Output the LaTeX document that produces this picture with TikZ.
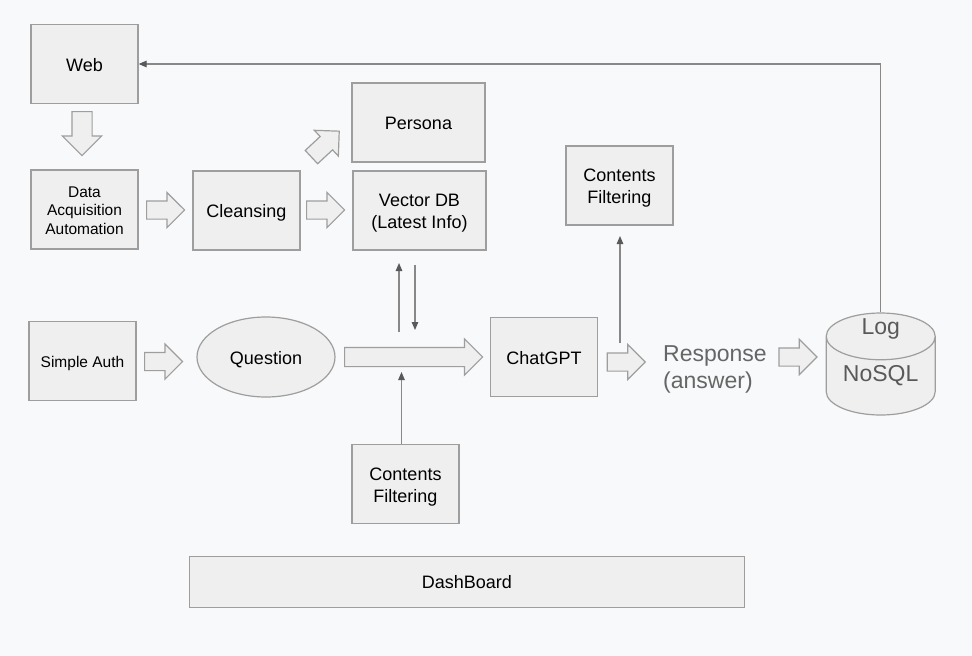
\documentclass[tikz,border=0pt]{standalone}
\usepackage{fontspec}
\setmainfont{Liberation Sans}
\usepackage{tikz}
\usetikzlibrary{shapes.geometric, shapes.arrows, arrows.meta}
\definecolor{bgpage}{HTML}{F8F9FA}
\definecolor{boxfill}{HTML}{EFEFEF}
\definecolor{boxline}{HTML}{9E9E9E}
\definecolor{wire}{HTML}{888888}
\definecolor{tipcol}{HTML}{595959}
\definecolor{greytext}{HTML}{666666}
\newcommand{\mainsize}{\fontsize{18}{21.6}\selectfont}
\newcommand{\smallsize}{\fontsize{15.5}{18.6}\selectfont}
\newcommand{\bigsize}{\fontsize{23}{27.6}\selectfont}
\newcommand{\topstrut}{\rule{0pt}{1.018em}}
\newcommand{\botstrut}{\rule[-0.212em]{0pt}{0.212em}}
\tikzstyle{box} = [rectangle, minimum width=107pt, minimum height=79pt, inner sep=0pt, text centered, align=center, draw=boxline, fill=boxfill, line width=1.2pt, font=\mainsize, execute at begin node=\topstrut, execute at end node=\botstrut]
\tikzstyle{smallbox} = [box, font=\smallsize]
\tikzstyle{widebox} = [box, minimum width=133pt]
\tikzstyle{dashbox} = [box, minimum width=555pt, minimum height=51pt]
\tikzstyle{question} = [ellipse, minimum width=138pt, minimum height=80pt, inner sep=0pt, draw=boxline, fill=boxfill, line width=1.2pt, font=\mainsize, execute at begin node=\topstrut\botstrut]
\tikzstyle{db} = [cylinder, shape border rotate=90, aspect=0.62, minimum width=109pt, minimum height=102pt, inner sep=0pt, draw=boxline, fill=boxfill, line width=1.2pt, font=\bigsize, text=tipcol]
\tikzstyle{dbtext} = [font=\bigsize, text=tipcol, inner sep=0pt]
\tikzstyle{answer} = [font=\bigsize, text=greytext, align=left, inner sep=0pt]
\tikzstyle{blockarrow} = [single arrow, anchor=tail, draw=boxline, fill=boxfill, line width=1.2pt, inner xsep=0pt, inner ysep=8.5pt, single arrow head extend=8.5pt, minimum height=38pt]
\tikzstyle{arrow} = [line width=1.2pt, draw=wire, ->, >={Triangle[length=8pt, width=6.5pt, color=tipcol]}]

\begin{document}
\begin{tikzpicture}[x=1pt, y=-1pt, node distance=170pt]
	\fill[bgpage] (0,0) rectangle (972,656);
	\useasboundingbox (0,0) rectangle (972,656);
	%----------------------------------------------------%
	\node(web) [box] at (84.5,64) {Web};
	\node(acq) [smallbox, below of=web, yshift=24.5pt] {\topstrut Data\\Acquisition\\Automation};
	\node(cleansing) [box, right of=acq, xshift=-8pt, yshift=-1pt] {Cleansing};
	\node(vdb) [widebox, right of=cleansing, xshift=3pt] {\topstrut Vector DB\\(Latest Info)};
	\node(persona) [widebox, above of=vdb, yshift=-82pt, xshift=-1pt] {Persona};
	
	\node(webdown) [blockarrow, inner ysep=9.5pt, single arrow head extend=9.5pt, minimum height=44pt, rotate=-90] at (82,111) {};
	\node(acqcl) [blockarrow] at (146,210) {};
	\node(clvdb) [blockarrow] at (306,210) {};
	\node(clpersona) [blockarrow, rotate=43] at (311,157.5) {};
	
	%----------------------------------------------------%
	\node(auth) [smallbox, below of=acq, yshift=18.5pt, xshift=-2pt] {Simple Auth};
	\node(quest) [question, right of=auth, xshift=13.5pt, yshift=4pt] {Question};
	\node(chatgpt) [box, right of=quest, xshift=108pt] {ChatGPT};
	\node(resp) [answer, right of=chatgpt, xshift=1pt, yshift=-12.5pt] {Response\\(answer)};
	\node(nosql) [db, right of=resp, xshift=-4.3pt, yshift=5.5pt, anchor=shape center] {NoSQL};
	\node(log) [dbtext] at ([yshift=-17pt]nosql.top) {Log};
	
	\node(authq) [blockarrow] at (144,361.5) {};
	\node(qchat) [blockarrow, inner ysep=9pt, minimum height=138pt] at (344,357) {};
	\node(chatresp) [blockarrow] at (606.7,362) {};
	\node(respdb) [blockarrow] at (778.3,357) {};
	
	%----------------------------------------------------%
	\node(cftop) [box, above of=chatgpt, xshift=75.5pt, yshift=1.5pt] {\topstrut Contents\\Filtering};
	\node(cfbot) [box, below of=vdb, yshift=-103.5pt, xshift=-14pt] {\topstrut Contents\\Filtering};
	\node(dash) [dashbox, below of=cfbot, yshift=72.3pt, xshift=61.3pt] {DashBoard};
	
	\coordinate (vdbup) at (399,263);
	\coordinate (vdbupfoot) at (399,332);
	\coordinate (vdbdown) at (415,265);
	\coordinate (vdbdownfoot) at (415,330);
	\coordinate (cfin) at (401.5,372);
	\coordinate (cfout) at (620,343);
	\coordinate (cfouttip) at (620,236);
	
	\draw[arrow] (nosql.top) |- (web.east);
	\draw[arrow] (vdbupfoot) -- (vdbup);
	\draw[arrow] (vdbdown) -- (vdbdownfoot);
	\draw[arrow] (cfbot.north -| cfin) -- (cfin);
	\draw[arrow] (cfout) -- (cfouttip);
\end{tikzpicture}
\end{document}
